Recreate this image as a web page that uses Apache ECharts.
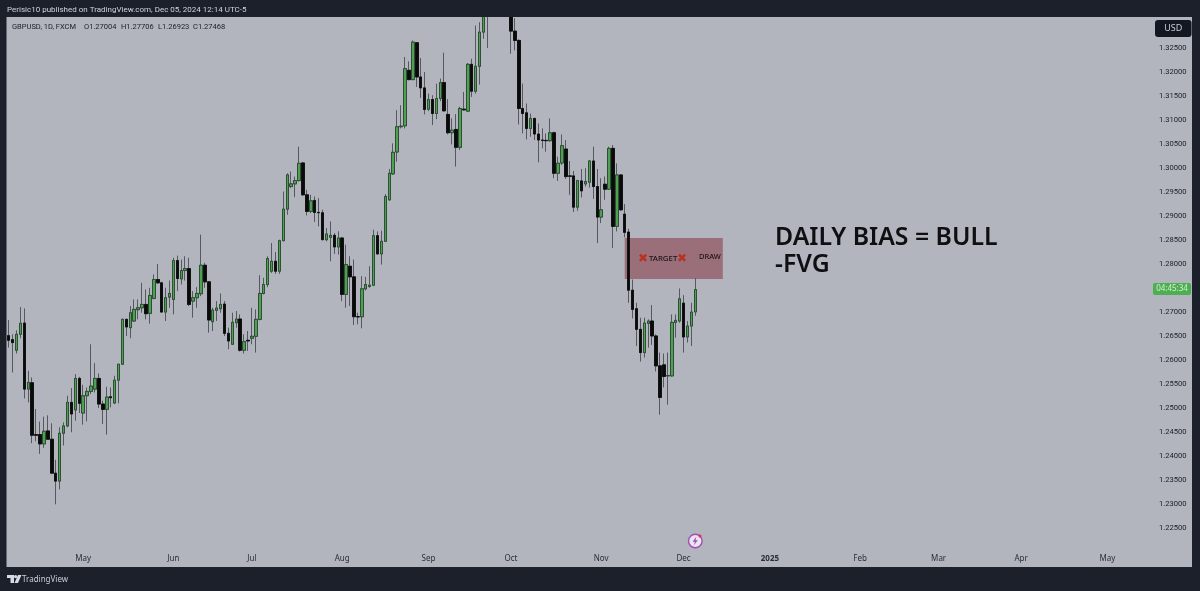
<!DOCTYPE html>
<html><head><meta charset="utf-8">
<style>html,body{margin:0;padding:0;background:#1c202b}#c{width:1200px;height:591px}</style>
<script src="https://cdn.jsdelivr.net/npm/echarts@6/dist/echarts.min.js"></script>
</head><body><div id="c"></div>
<script>
const opens=[1.26509,1.26426,1.26205,1.26537,1.26772,1.25395,1.25527,1.24448,1.24448,1.24254,1.24524,1.24351,1.23645,1.23479,1.24476,1.24628,1.25119,1.24960,1.25617,1.24897,1.25257,1.25347,1.25395,1.25617,1.25084,1.24973,1.25236,1.25105,1.25582,1.25914,1.26848,1.26675,1.26813,1.27049,1.27090,1.27159,1.26973,1.27284,1.27678,1.27609,1.27000,1.27311,1.27263,1.28072,1.27692,1.27865,1.27906,1.27228,1.27298,
1.27381,1.27975,1.27629,1.26799,1.27035,1.27069,1.27166,1.26557,1.26329,1.26779,1.26855,1.26205,1.26412,1.26454,1.26495,1.26848,1.27387,1.27574,1.27851,1.28058,1.27851,1.28487,1.29144,1.29615,1.29670,1.29739,1.30106,1.29442,1.29096,1.29324,1.29075,1.29068,1.28508,1.28556,1.28598,1.28356,1.28543,1.27367,1.27955,1.27733,1.26903,1.26903,1.27484,1.27533,1.27560,1.28591,1.28211,1.28473,1.29338,1.29878,1.30334,
1.30860,1.30880,1.32036,1.31842,1.32610,1.31897,1.31669,1.31226,1.31427,1.31136,1.31448,1.31780,1.31116,1.30735,1.30804,1.30431,1.31226,1.31185,1.32160,1.31600,1.32119,1.32831,1.33200,1.33500,1.34150,1.33850,1.34200,1.33780,1.33750,1.32852,1.32658,1.31240,1.31150,1.30825,1.31033,1.30708,1.30583,1.30576,1.30569,1.30735,1.29891,
1.30105,1.30396,1.29836,1.29836,1.29185,1.29732,1.29670,1.29704,1.30147,1.29614,1.28978,1.29663,1.29559,1.30410,1.28784,1.29856,1.29040,1.28667,1.27456,1.27069,1.26640,1.26156,1.26764,1.26813,1.26502,1.25879,1.25900,1.25671,1.25671,1.26785,1.26813,1.27186,1.26481,1.26709,1.27004];
const highs=[1.26834,1.26537,1.26620,1.27104,1.27076,1.25776,1.25638,1.24980,1.24718,1.24821,1.24849,1.24683,1.23922,1.24600,1.24704,1.25257,1.25416,1.25707,1.25651,1.25485,1.25430,1.26329,1.25935,1.25721,1.25153,1.25444,1.25430,1.25672,1.25914,1.26862,1.26862,1.27125,1.27263,1.27263,1.27609,1.27471,1.27505,1.27782,1.28003,1.27630,1.27505,1.27657,1.28128,1.28176,1.28093,1.28162,1.28128,1.27436,1.27519,
1.28612,1.28024,1.27643,1.27090,1.27228,1.27387,1.27228,1.26675,1.26986,1.27021,1.26952,1.26537,1.26606,1.27090,1.27055,1.27768,1.27713,1.28162,1.28439,1.28252,1.28508,1.29511,1.29891,1.29926,1.29822,1.30445,1.30120,1.29546,1.29442,1.29407,1.29373,1.29131,1.28750,1.28888,1.28646,1.28681,1.28560,1.28404,1.28162,1.28093,1.26986,1.27747,1.27733,1.27955,1.28715,1.28681,1.28695,1.29456,1.29981,1.30514,1.31205,
1.31309,1.32312,1.32222,1.32658,1.32623,1.32291,1.32001,1.31551,1.31517,1.31759,1.31863,1.32402,1.31434,1.31033,1.31123,1.31275,1.31586,1.32188,1.32278,1.32969,1.33038,1.33300,1.33650,1.34250,1.34280,1.34340,1.34300,1.34150,1.34000,1.33120,1.32680,1.31759,1.31344,1.31136,1.31046,1.30929,1.30825,1.30721,1.31033,1.30756,1.30237,
1.30700,1.30583,1.30147,1.29939,1.29753,1.29981,1.29995,1.30168,1.30444,1.29981,1.29787,1.29822,1.30444,1.30479,1.30098,1.29870,1.29248,1.28736,1.27677,1.27193,1.26882,1.26882,1.26847,1.27145,1.26536,1.26156,1.26135,1.26156,1.26951,1.26951,1.27491,1.27352,1.26813,1.27193,1.27706];
const lows=[1.26260,1.25741,1.26136,1.26454,1.25202,1.25119,1.24268,1.24309,1.24047,1.24171,1.24351,1.23632,1.22995,1.23306,1.24220,1.24600,1.24496,1.24738,1.24897,1.24655,1.24724,1.25292,1.25326,1.25001,1.24669,1.24448,1.25015,1.25084,1.25098,1.25900,1.26502,1.26454,1.26800,1.26848,1.26986,1.26848,1.26758,1.27263,1.27588,1.26986,1.26813,1.27090,1.26952,1.27436,1.27574,1.27657,1.27125,1.26883,1.27090,
1.27332,1.27505,1.26571,1.26606,1.26813,1.26986,1.26502,1.26225,1.26315,1.26675,1.26177,1.26135,1.26191,1.26329,1.26156,1.26827,1.27367,1.27519,1.27816,1.27796,1.27796,1.28473,1.29027,1.29580,1.29393,1.29718,1.29428,1.29013,1.29061,1.28875,1.28785,1.28494,1.28473,1.28058,1.28211,1.28197,1.27228,1.27090,1.27125,1.26730,1.26744,1.26661,1.27450,1.27505,1.27540,1.28197,1.27989,1.28460,1.29317,1.29857,1.30133,
1.30825,1.30825,1.31828,1.31828,1.31690,1.31461,1.31116,1.31185,1.30894,1.31019,1.31392,1.31171,1.30701,1.30493,1.30030,1.30375,1.31199,1.31171,1.31482,1.31551,1.31738,1.32693,1.32499,1.33350,1.33650,1.33700,1.33600,1.33400,1.32381,1.32451,1.30908,1.30721,1.30597,1.30652,1.30583,1.30119,1.30410,1.30341,1.30548,1.29787,1.29732,
1.30064,1.29773,1.29441,1.29082,1.29109,1.29386,1.29614,1.29593,1.29358,1.28438,1.28853,1.29338,1.29545,1.28335,1.28680,1.29109,1.28556,1.27193,1.26868,1.26294,1.25969,1.26052,1.26259,1.26315,1.25761,1.24862,1.25429,1.25070,1.25651,1.26467,1.26778,1.26156,1.26363,1.26294,1.26923];
const closes=[1.26412,1.26364,1.26537,1.26765,1.25395,1.25534,1.24434,1.24434,1.24254,1.24517,1.24351,1.23645,1.23479,1.24476,1.24628,1.25119,1.24877,1.25617,1.25098,1.25257,1.25347,1.25458,1.25617,1.25084,1.24973,1.25229,1.25216,1.25582,1.25914,1.26848,1.26689,1.26986,1.27056,1.27090,1.27159,1.26966,1.27346,1.27678,1.27609,1.27000,1.27298,1.27388,1.28072,1.27699,1.27865,1.27906,1.27159,1.27298,1.27388,
1.27975,1.27629,1.26834,1.27042,1.27083,1.27159,1.26557,1.26398,1.26786,1.26855,1.26205,1.26384,1.26398,1.26495,1.26848,1.27387,1.27574,1.28114,1.28058,1.27851,1.28487,1.29144,1.29857,1.29670,1.29739,1.30099,1.29442,1.29096,1.29317,1.29075,1.29068,1.28508,1.28626,1.28598,1.28356,1.28543,1.27367,1.27989,1.27733,1.26903,1.26900,1.27484,1.27574,1.27560,1.28591,1.28211,1.28473,1.29407,1.29891,1.30327,1.30860,
1.30873,1.32070,1.31842,1.32623,1.31897,1.31669,1.31219,1.31427,1.31136,1.31448,1.31780,1.31192,1.30735,1.30790,1.30431,1.31240,1.31212,1.32160,1.31600,1.32119,1.32831,1.33200,1.33500,1.34150,1.33850,1.34200,1.33780,1.33750,1.32852,1.32658,1.31240,1.31136,1.30825,1.31033,1.30708,1.30583,1.30576,1.30569,1.30735,1.29891,1.30099,
1.30465,1.29822,1.29829,1.29185,1.29739,1.29524,1.29718,1.30147,1.29614,1.28978,1.29130,1.29559,1.30410,1.28784,1.29856,1.29130,1.28660,1.27456,1.27055,1.26640,1.26156,1.26771,1.26813,1.26502,1.25879,1.25222,1.25658,1.25678,1.26785,1.26827,1.27276,1.26481,1.26709,1.27000,1.27468];

const monthTicks={'2024-05-01':'May','2024-06-03':'Jun','2024-07-01':'Jul','2024-08-01':'Aug','2024-09-02':'Sep','2024-10-01':'Oct','2024-11-01':'Nov','2024-12-02':'Dec','2025-01-01':'2025','2025-02-03':'Feb','2025-03-03':'Mar','2025-04-01':'Apr','2025-05-01':'May'};
const targetZone={from:157,to:182,top:1.28542,bottom:1.27691};

// weekday calendar, 2024-04-04 onward (the daily bars)
const categories=[];
for(let t=Date.UTC(2024,3,4);categories.length<292;t+=864e5){
  const d=new Date(t);
  if(d.getUTCDay()%6!==0)categories.push(d.toISOString().slice(0,10));
}
const wicks=opens.map((o,i)=>[o,closes[i],lows[i],highs[i]]);
const bodies=opens.map((o,i)=>[o,closes[i],Math.min(o,closes[i]),Math.max(o,closes[i])]);

const UI='"Noto Sans",sans-serif', TXT='Roboto,sans-serif', FRAME='#1c202b', INK='#2a2e39', DARK='#1b1e27';
const chart=echarts.init(document.getElementById('c'),null,{renderer:'canvas'});
const lbl=(text,x,y,font,fill,extra)=>({type:'text',x,y,z:101,style:Object.assign({text,font,fill,textVerticalAlign:'middle'},extra||{})});
const rect=(x,y,w,h,fill,r)=>({type:'rect',z:100,shape:{x,y,width:w,height:h,r:r||0},style:{fill}});
const poly=(pts,fill,z)=>({type:'polygon',z:z||101,shape:{points:pts},style:{fill}});
chart.setOption({
  animation:false,
  backgroundColor:'#b2b5be',
  grid:{left:6.7,right:47.5,top:-2.2,bottom:38.9},
  xAxis:{type:'category',data:categories,boundaryGap:true,
    axisLine:{show:false},axisTick:{show:false},splitLine:{show:false},
    axisLabel:{margin:3,fontSize:8,fontFamily:UI,color:INK,
      interval:(i,v)=>v in monthTicks,
      formatter:v=>{const s=monthTicks[v]||'';return s==='2025'?'{b|2025}':s;},
      rich:{b:{fontSize:8,fontWeight:'bold',fontFamily:UI,color:INK}}}},
  yAxis:{type:'value',position:'right',min:1.22,max:1.335,interval:0.005,scale:true,
    axisLine:{show:false},axisTick:{show:false},splitLine:{show:false},
    axisLabel:{margin:6.5,fontSize:7.6,fontFamily:TXT,color:DARK,align:'left',
      formatter:v=>(v>1.3255||v<1.2245)?'':v.toFixed(5)}},
  series:[
    {type:'candlestick',name:'wicks',data:wicks,barWidth:3,z:2,
      itemStyle:{color:'#4a9a50',color0:'#0a0a0a',borderColor:'#56585f',borderColor0:'#56585f',borderWidth:1},
      markArea:{silent:true,itemStyle:{color:'rgba(130,35,45,0.48)'},
        data:[[{xAxis:categories[targetZone.from],yAxis:targetZone.top},{xAxis:categories[targetZone.to],yAxis:targetZone.bottom}]]}},
    {type:'candlestick',name:'GBPUSD',data:bodies,barWidth:3,z:3,
      itemStyle:{color:'#4f9f55',color0:'#0a0a0a',borderColor:'#25452a',borderColor0:'#0a0a0a',borderWidth:0.8}}
  ],
  graphic:{elements:[
    rect(0,0,1200,17,FRAME),rect(0,567,1200,24,FRAME),rect(0,0,6.5,591,FRAME),rect(1192,0,8,591,FRAME),
    lbl('Perisic10 published on TradingView.com, Dec 05, 2024 12:14 UTC-5',7,9.5,'8px '+TXT,'#d1d4dc'),
    lbl('GBPUSD, 1D, FXCM',12,27,'7.5px '+TXT,DARK),
    lbl('O1.27004',84,27,'7.5px '+TXT,DARK),lbl('H1.27706',121,27,'7.5px '+TXT,DARK),lbl('L1.26923',158,27,'7.5px '+TXT,DARK),lbl('C1.27468',193,27,'7.5px '+TXT,DARK),
    rect(1155,20,36.5,17,'#131722',3),
    lbl('USD',1173.2,28.5,'9px '+UI,'#c9ccd4',{textAlign:'center'}),
    rect(1153,283,38,12,'#4caf50',2),
    lbl('04:45:34',1172,289,'8px '+UI,'#d5ecd6',{textAlign:'center'}),
    lbl('✖',643,258.5,'12px "DejaVu Sans"','#b8321f',{textAlign:'center'}),
    lbl('TARGET',649,258.5,'500 7.8px '+UI,'#1c1517'),
    lbl('✖',682,258.5,'12px "DejaVu Sans"','#b8321f',{textAlign:'center'}),
    lbl('DRAW',699,257,'500 7.5px '+UI,'#1c1517'),
    lbl('DAILY BIAS = BULL',775,237.5,'600 24.8px '+UI,'#0f0f12'),
    lbl('-FVG',775,264.5,'600 24.8px '+UI,'#0f0f12'),
    // logo
    poly([[7,575],[14,575],[14,583],[10.5,583],[10.5,578],[7,578]],'#d8dbe2'),
    {type:'circle',z:101,shape:{cx:15.6,cy:576.6,r:1.6},style:{fill:'#d8dbe2'}},
    poly([[18,575],[21.5,575],[18,583],[14.5,583]],'#d8dbe2'),
    lbl('TradingView',22,579.5,'8px '+UI,'#c9ccd4'),
    // event marker
    {type:'circle',z:101,shape:{cx:695.3,cy:541,r:6.8},style:{fill:'#ece4ef',stroke:'#9c4fb8',lineWidth:1.4}},
    poly([[696.3,536.8],[692.6,541.8],[694.9,541.8],[693.9,545.2],[697.8,540.2],[695.5,540.2]],'#9c4fb8',102),
    {type:'circle',z:103,shape:{cx:700,cy:536,r:1.5},style:{fill:'#d8344a'}}
  ]}
});
</script></body></html>
